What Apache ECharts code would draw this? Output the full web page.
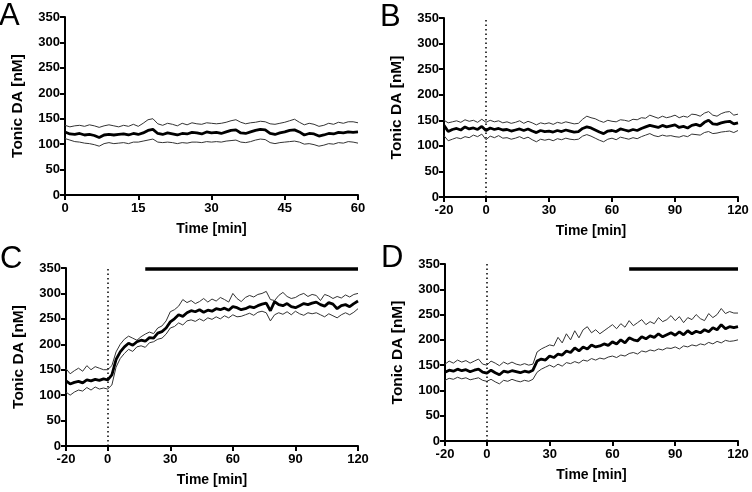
<!DOCTYPE html>
<html>
<head>
<meta charset="utf-8">
<script src="https://cdn.jsdelivr.net/npm/echarts@6/dist/echarts.min.js"></script>
<style>
  html, body { margin: 0; padding: 0; background: #fff; }
  #chart { width: 752px; height: 492px; }
</style>
</head>
<body>
<div id="chart"></div>
<script>
// panel A: 0..60 min, one point per minute
const timeA = [0,1,2,3,4,5,6,7,8,9,10,11,12,13,14,15,16,17,18,19,20,21,22,23,24,25,26,27,28,29,30,31,32,33,34,35,36,37,38,39,40,41,42,43,44,45,46,47,48,49,50,51,52,53,54,55,56,57,58,59,60]
const meanA = [124,120,119,121,118,119,117,113,118,119,118,119,120,118,121,119,122,127,129,121,119,122,120,118,121,120,123,122,120,124,122,123,121,124,127,128,122,121,124,127,129,128,121,119,122,124,127,128,124,118,121,120,116,118,121,120,123,122,124,123,124]
const upperA = [137,134,136,137,135,138,136,133,136,138,136,134,137,135,139,135,141,148,150,140,137,141,139,136,141,138,142,140,139,142,141,140,141,143,146,148,143,140,142,143,145,144,140,139,141,143,146,149,143,138,141,139,135,137,141,139,143,141,144,144,142]
const lowerA = [111,108,105,104,102,101,99,96,101,103,101,102,103,101,104,104,106,108,110,104,103,104,103,101,103,102,104,104,103,105,104,105,104,106,107,108,104,103,105,108,110,109,103,101,103,104,105,106,104,100,101,99,96,98,101,100,103,102,105,104,102]

// panels B-D: -20..120 min, one point every 2 min
const timeL = [-20,-18,-16,-14,-12,-10,-8,-6,-4,-2,0,2,4,6,8,10,12,14,16,18,20,22,24,26,28,30,32,34,36,38,40,42,44,46,48,50,52,54,56,58,60,62,64,66,68,70,72,74,76,78,80,82,84,86,88,90,92,94,96,98,100,102,104,106,108,110,112,114,116,118,120]

const meanB = [140,128,132,134,131,137,133,135,132,138,130,135,132,134,131,132,129,131,133,130,133,129,126,130,128,129,127,130,128,131,129,127,128,134,137,135,131,127,124,129,130,128,133,131,129,132,130,134,137,140,138,136,140,137,139,141,136,138,135,140,142,139,146,150,143,142,145,147,148,143,145]
const upperB = [150,145,147,149,146,151,148,150,146,152,146,150,147,149,145,147,144,146,149,144,148,145,141,145,143,145,142,146,144,147,145,143,144,152,158,155,153,149,146,150,148,147,151,150,148,152,151,155,154,160,157,154,158,155,157,160,155,158,156,162,161,158,164,167,160,158,163,166,167,160,162]
const lowerB = [120,110,113,116,114,118,116,121,118,123,112,119,116,120,115,116,113,115,118,114,117,112,108,113,111,113,110,114,112,115,113,112,113,119,122,119,115,111,108,113,115,112,117,115,113,116,114,118,121,124,120,118,121,119,120,118,117,120,118,123,122,121,126,128,124,125,127,128,129,126,130]

const meanC = [128,122,125,127,124,130,128,131,129,132,130,140,170,185,195,202,198,205,208,206,213,212,222,225,232,244,250,258,255,262,266,264,268,263,267,265,270,268,271,267,274,272,268,270,274,272,276,279,281,266,284,278,276,280,274,272,276,280,278,281,283,278,275,282,279,270,276,278,274,280,285]
const upperC = [152,142,148,153,147,158,150,156,153,150,150,158,185,200,210,216,212,208,215,220,224,221,232,236,246,264,268,275,288,282,286,280,284,290,283,289,285,292,288,283,300,290,284,292,296,293,298,300,304,288,286,296,302,294,290,292,297,300,294,298,296,286,298,295,290,294,291,297,293,298,300]
const lowerC = [106,100,106,110,108,115,110,116,112,114,112,120,155,172,182,190,186,195,197,194,203,205,210,212,220,232,235,242,238,246,248,245,250,246,252,249,254,250,256,252,258,254,255,258,261,257,263,265,262,246,258,262,259,264,258,265,260,257,262,260,262,258,254,260,256,252,258,262,258,263,270]

const meanD = [136,140,138,142,139,141,137,140,142,136,134,140,135,131,138,136,139,137,135,138,136,140,158,162,160,168,165,172,170,178,175,184,178,186,182,190,186,188,192,189,196,192,200,194,204,200,198,206,202,208,205,212,206,210,214,209,216,210,218,212,217,214,220,216,224,220,230,222,226,224,226]
const upperD = [152,158,154,160,156,159,154,158,162,152,150,158,154,149,156,152,156,152,150,153,150,152,176,182,186,190,188,205,194,212,200,218,204,220,226,214,220,212,218,224,230,222,232,225,238,228,234,240,230,236,232,244,236,240,248,238,246,234,244,240,250,242,238,252,244,250,262,252,256,253,253]
const lowerD = [120,124,122,126,123,125,121,123,125,120,118,122,117,113,120,118,122,119,117,120,118,122,136,142,146,150,146,152,148,155,153,157,154,160,158,163,160,164,162,166,168,165,170,168,173,175,172,178,176,180,178,182,180,184,183,186,182,188,186,190,188,192,190,195,192,197,194,199,197,198,200]

// horizontal bars: [start, end, level]
const barC = [18, 120, 349]
const barD = [68, 120, 341]

const ticksA = [0, 15, 30, 45, 60]
const ticksL = [-20, 0, 30, 60, 90, 120]

const chart = echarts.init(document.getElementById('chart'))

const font = 'Liberation Sans, Arial, sans-serif'
const pair = (t, v) => t.map((x, i) => [x, v[i]])

const grids = [
  { left: 65, top: 17, width: 293, height: 178 },
  { left: 444, top: 18, width: 294, height: 179 },
  { left: 66, top: 268, width: 292, height: 178 },
  { left: 445, top: 264, width: 293, height: 177 }
]

function xAx (i, ticks, min, max) {
  return {
    type: 'value', gridIndex: i, min: min, max: max, interval: 10,
    name: 'Time [min]', nameLocation: 'middle', nameGap: 27,
    nameTextStyle: { fontFamily: font, fontWeight: 'bold', fontSize: 14, color: '#000' },
    axisLine: { show: true, onZero: false, lineStyle: { color: '#000', width: 2 } },
    axisTick: { show: true, length: 5, customValues: ticks, lineStyle: { color: '#000', width: 2 } },
    axisLabel: { customValues: ticks, fontFamily: font, fontWeight: 'bold', fontSize: 13, color: '#000', margin: 7 },
    splitLine: { show: false }
  }
}
function yAx (i) {
  return {
    type: 'value', gridIndex: i, min: 0, max: 350, interval: 50,
    name: 'Tonic DA [nM]', nameLocation: 'middle', nameGap: 39,
    nameTextStyle: { fontFamily: font, fontWeight: 'bold', fontSize: 15.5, color: '#000' },
    axisLine: { show: true, onZero: false, lineStyle: { color: '#000', width: 2 } },
    axisTick: { show: true, length: 5, lineStyle: { color: '#000', width: 2 } },
    axisLabel: { fontFamily: font, fontWeight: 'bold', fontSize: 13, color: '#000', margin: 5 },
    splitLine: { show: false }
  }
}

function band (i, t, mean, upper, lower, extra) {
  const base = { type: 'line', xAxisIndex: i, yAxisIndex: i, showSymbol: false, silent: true, animation: false }
  const out = [
    Object.assign({}, base, { data: pair(t, upper), lineStyle: { color: '#333', width: 1 } }),
    Object.assign({}, base, { data: pair(t, lower), lineStyle: { color: '#333', width: 1 } }),
    Object.assign({}, base, { data: pair(t, mean), lineStyle: { color: '#000', width: 2.8 }, z: 3 })
  ]
  if (extra) out[2].markLine = extra
  return out
}

function marks (bar) {
  const data = [
    [{ coord: [0, 0] }, { coord: [0, 350] }]
  ]
  if (bar) {
    data.push([{ coord: [bar[0], bar[2]], lineStyle: { type: 'solid', width: 3.5, color: '#000' } }, { coord: [bar[1], bar[2]] }])
  }
  return {
    symbol: 'none', silent: true, label: { show: false }, animation: false,
    lineStyle: { type: [1.5, 3], width: 1.5, color: '#000' },
    emphasis: { disabled: true },
    data: data
  }
}

chart.setOption({
  animation: false,
  backgroundColor: '#fff',
  title: [
    { text: 'A', left: -1, top: 1 },
    { text: 'B', left: 380, top: 2 },
    { text: 'C', left: 0, top: 244 },
    { text: 'D', left: 381, top: 243 }
  ].map(o => Object.assign(o, { padding: 0, textStyle: { fontFamily: font, fontWeight: 'normal', fontSize: 31, color: '#000' } })),
  grid: grids,
  xAxis: [xAx(0, ticksA, 0, 60), xAx(1, ticksL, -20, 120), xAx(2, ticksL, -20, 120), xAx(3, ticksL, -20, 120)],
  yAxis: [yAx(0), yAx(1), yAx(2), yAx(3)],
  series: [].concat(
    band(0, timeA, meanA, upperA, lowerA, null),
    band(1, timeL, meanB, upperB, lowerB, marks(null)),
    band(2, timeL, meanC, upperC, lowerC, marks(barC)),
    band(3, timeL, meanD, upperD, lowerD, marks(barD))
  )
})
</script>
</body>
</html>
